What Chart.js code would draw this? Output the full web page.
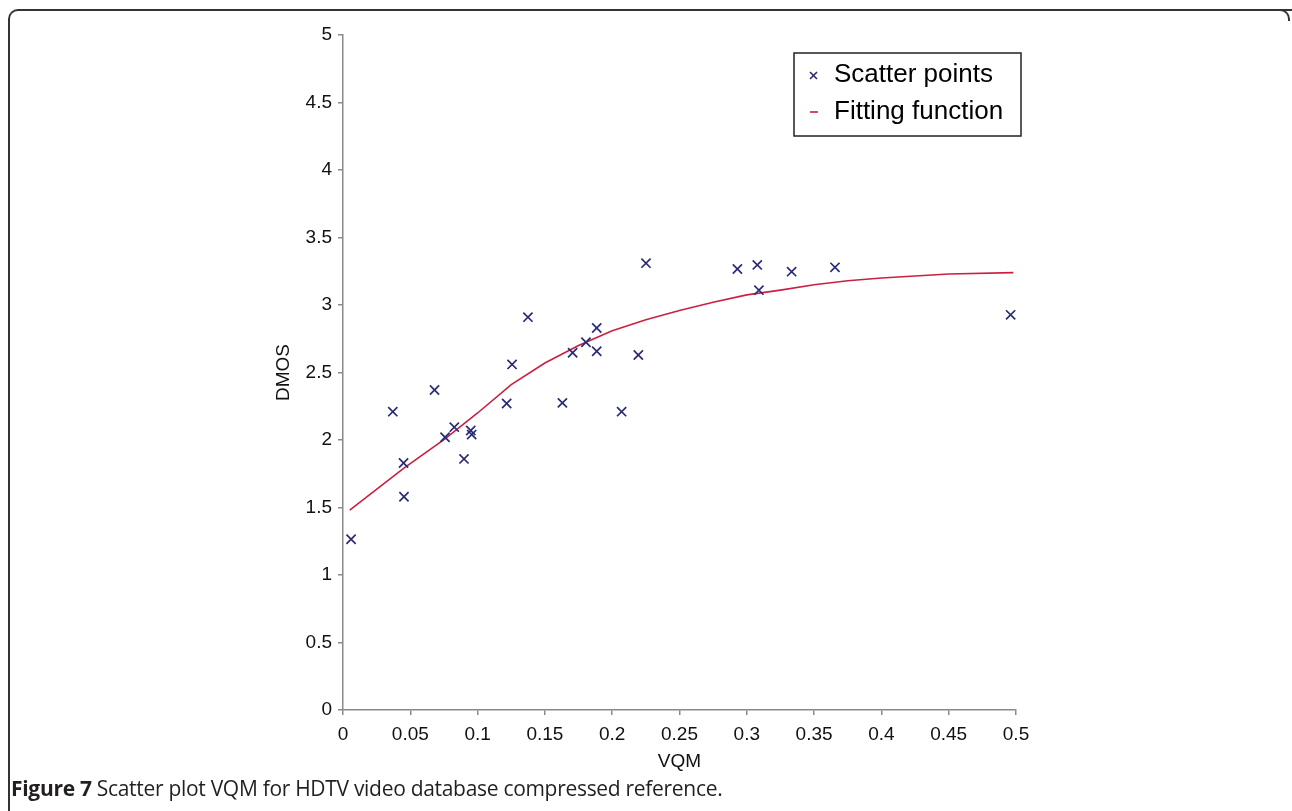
<!DOCTYPE html>
<html>
<head>
<meta charset="utf-8">
<script src="https://cdn.jsdelivr.net/npm/chart.js@4/dist/chart.umd.min.js"></script>
<style>
  html, body { margin: 0; padding: 0; background: #fff; }
  #wrap { position: relative; width: 1292px; height: 811px; overflow: hidden; }
  #frame {
    position: absolute; left: 8px; top: 9px; width: 1290px; height: 830px;
    border-top: 2px solid #333; border-left: 2px solid #333;
    border-top-left-radius: 10px;
  }
  #frame-r {
    position: absolute; left: 1278px; top: 9px; width: 10px; height: 10px;
    border-top: 2px solid #333; border-right: 2px solid #333;
    border-top-right-radius: 10px;
  }
  #chart { position: absolute; left: 0; top: 0; }
  #caption {
    position: absolute; left: 11px; top: 774px;
    font-family: "Open Sans", sans-serif; font-size: 21px; color: #231f20;
    letter-spacing: -0.3px;
  }
  #caption b { font-weight: 700; }
</style>
</head>
<body>
<div id="wrap">
  <div id="frame"></div>
  <div id="frame-r"></div>
  <canvas id="chart" width="1292" height="775"></canvas>
  <div id="caption"><b>Figure 7</b> Scatter plot VQM for HDTV video database compressed reference.</div>
</div>
<script>
// scatter points
const vqm = [0.006, 0.037, 0.045, 0.0453, 0.068, 0.0758, 0.0827, 0.0899, 0.0949, 0.0956,
             0.1216, 0.1256, 0.1374, 0.163, 0.1706, 0.1805, 0.1885, 0.1885, 0.207, 0.2194,
             0.2251, 0.293, 0.3078, 0.309, 0.3333, 0.3655, 0.496];
const dmos = [1.265, 2.21, 1.83, 1.58, 2.37, 2.02, 2.095, 1.86, 2.07, 2.04,
              2.27, 2.56, 2.91, 2.275, 2.646, 2.724, 2.83, 2.657, 2.21, 2.63,
              3.31, 3.267, 3.297, 3.11, 3.247, 3.279, 2.927];

// fitting function as drawn
const fitX = [0.005, 0.045, 0.076, 0.1, 0.125, 0.15, 0.175, 0.2, 0.225, 0.25,
              0.275, 0.3, 0.325, 0.35, 0.375, 0.4, 0.45, 0.498];
const fitY = [1.48, 1.79, 2.01, 2.2, 2.41, 2.57, 2.7, 2.81, 2.89, 2.96,
              3.02, 3.075, 3.11, 3.15, 3.18, 3.2, 3.23, 3.24];

const xTicks = [0, 0.05, 0.1, 0.15, 0.2, 0.25, 0.3, 0.35, 0.4, 0.45, 0.5];
const yTicks = [0, 0.5, 1, 1.5, 2, 2.5, 3, 3.5, 4, 4.5, 5];

const pointColor = '#2a2a78';
const lineColor = '#cc1f40';
const axisColor = '#8a8a8a';
const font = { family: '"Liberation Sans", Arial, sans-serif', size: 19 };

// legend box drawn inside the plot
const boxLegend = {
  id: 'boxLegend',
  afterDraw(chart) {
    const c = chart.ctx;
    const x0 = 794, y0 = 53, w = 227, h = 83;
    c.save();
    c.strokeStyle = '#222';
    c.lineWidth = 1.5;
    c.strokeRect(x0, y0, w, h);
    c.font = '26px "Liberation Sans", Arial, sans-serif';
    c.fillStyle = '#000';
    c.textBaseline = 'middle';
    const ds = chart.data.datasets;
    // scatter item
    c.strokeStyle = pointColor;
    c.lineWidth = 1.6;
    c.beginPath();
    c.moveTo(810, 72); c.lineTo(817, 79);
    c.moveTo(817, 72); c.lineTo(810, 79);
    c.stroke();
    c.fillText(ds[0].label, 834, 75);
    // line item
    c.strokeStyle = lineColor;
    c.beginPath();
    c.moveTo(810, 112); c.lineTo(818, 112);
    c.stroke();
    c.fillText(ds[1].label, 834, 112);
    c.restore();
  }
};

new Chart(document.getElementById('chart'), {
  type: 'scatter',
  data: {
    datasets: [
      {
        label: 'Scatter points',
        data: vqm.map((v, i) => ({ x: v, y: dmos[i] })),
        pointStyle: 'crossRot',
        pointRadius: 6.5,
        pointBorderWidth: 1.7,
        borderColor: pointColor,
        backgroundColor: pointColor
      },
      {
        label: 'Fitting function',
        type: 'line',
        data: fitX.map((v, i) => ({ x: v, y: fitY[i] })),
        borderColor: lineColor,
        borderWidth: 1.6,
        pointRadius: 0,
        fill: false,
        tension: 0
      }
    ]
  },
  options: {
    responsive: false,
    animation: false,
    layout: { padding: { left: 272, right: 276, top: 35, bottom: 0 } },
    plugins: { legend: { display: false }, tooltip: { enabled: false } },
    scales: {
      x: {
        type: 'linear',
        min: 0, max: 0.5,
        afterBuildTicks: s => { s.ticks = xTicks.map(v => ({ value: v })); },
        afterFit: s => { s.height = 65; },
        grid: { display: true, drawOnChartArea: false, drawTicks: true, tickLength: 5, color: axisColor, lineWidth: 1.5 },
        border: { color: axisColor, width: 1.5 },
        ticks: { color: '#111', font, padding: 8, maxRotation: 0, callback: v => String(v) },
        title: { display: true, text: 'VQM', color: '#111', font, padding: { top: 0, bottom: 2 } }
      },
      y: {
        min: 0, max: 5,
        afterBuildTicks: s => { s.ticks = yTicks.map(v => ({ value: v })); },
        afterFit: s => { s.width = 71; },
        grid: { display: true, drawOnChartArea: false, drawTicks: true, tickLength: 5, color: axisColor, lineWidth: 1.5 },
        border: { color: axisColor, width: 1.5 },
        ticks: { color: '#111', font, padding: 6, callback: v => String(v) },
        title: { display: true, text: 'DMOS', color: '#111', font, padding: 0 }
      }
    }
  },
  plugins: [boxLegend]
});
</script>
</body>
</html>
